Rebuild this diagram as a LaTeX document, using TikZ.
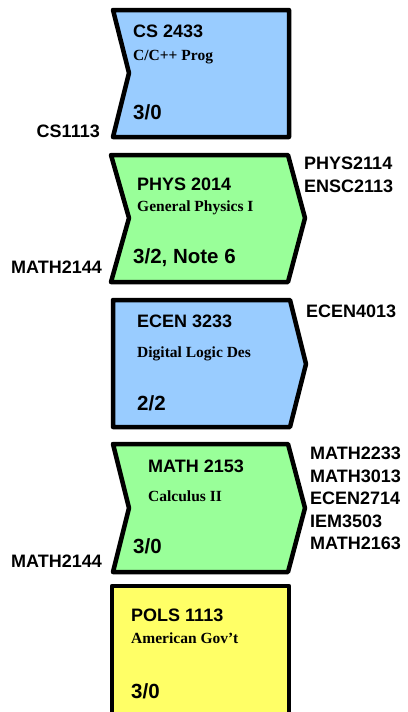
\documentclass[tikz,border=0pt]{standalone}
\usepackage{fontspec}
\setmainfont{Liberation Serif}
\newfontfamily\hv{Liberation Sans}
\definecolor{cblue}{HTML}{99CCFF}
\definecolor{cgreen}{HTML}{99FF99}
\definecolor{cyellow}{HTML}{FFFF66}
\tikzset{
  box/.style={draw=black, line width=4.5pt, line join=round},
  code/.style={anchor=base west, inner sep=0pt, font=\hv\bfseries\fontsize{18}{20}\selectfont},
  title/.style={anchor=base west, inner sep=0pt, font=\bfseries\fontsize{15.5}{17}\selectfont},
  hrs/.style={anchor=base west, inner sep=0pt, font=\hv\bfseries\fontsize{20.5}{22}\selectfont},
  pre/.style={anchor=base east, inner sep=0pt, font=\hv\bfseries\fontsize{18}{20}\selectfont},
  post/.style={anchor=base west, inner sep=0pt, font=\hv\bfseries\fontsize{18}{20}\selectfont},
}
\begin{document}
\begin{tikzpicture}[x=1pt,y=-1pt]
\useasboundingbox (0,0) rectangle (407,712);
\clip (0,0) rectangle (407,712);
\fill[white] (0,0) rectangle (407,712);
% Box 1
\draw[box, fill=cblue] (113,10) -- (289,10) -- (289,137) -- (113,137) -- (129,73) -- cycle;
\node[code] (c1) at (133,37) {CS 2433};
\node[title] (t1) at (133,60) {C/C++ Prog};
\node[hrs] (h1) at (133,119) {3/0};
\node[pre] (p1) at (100,137) {CS1113};
% Box 2
\draw[box, fill=cgreen] (111,155) -- (288,155) -- (305,218) -- (288,282) -- (111,282) -- (129,218) -- cycle;
\node[code] (c2) at (137,190) {PHYS 2014};
\node[title] (t2) at (137,211) {General Physics I};
\node[hrs] (h2) at (133,263) {3/2, Note 6};
\node[pre] (p2) at (102,273) {MATH2144};
\node[post] (q2a) at (304,169) {PHYS2114};
\node[post] (q2b) at (304,192) {ENSC2113};
% Box 3
\draw[box, fill=cblue] (113,300) -- (290,300) -- (306,364) -- (290,427) -- (113,427) -- cycle;
\node[code] (c3) at (137,327) {ECEN 3233};
\node[title] (t3) at (137,357) {Digital Logic Des};
\node[hrs] (h3) at (137,410) {2/2};
\node[post] (q3a) at (306,317) {ECEN4013};
% Box 4
\draw[box, fill=cgreen] (113,444) -- (288,444) -- (305,508) -- (288,572) -- (113,572) -- (129,508) -- cycle;
\node[code] (c4) at (148,472) {MATH 2153};
\node[title] (t4) at (148,501) {Calculus II};
\node[hrs] (h4) at (133,553) {3/0};
\node[pre] (p4) at (102,567) {MATH2144};
\node[post] (q4a) at (310,459) {MATH2233};
\node[post] (q4b) at (310,482) {MATH3013};
\node[post] (q4c) at (310,504) {ECEN2714};
\node[post] (q4d) at (310,527) {IEM3503};
\node[post] (q4e) at (310,549) {MATH2163};
% Box 5
\draw[box, fill=cyellow] (112,586) -- (289,586) -- (289,740) -- (112,740) -- cycle;
\node[code] (c5) at (131,621) {POLS 1113};
\node[title] (t5) at (131,643) {American Gov’t};
\node[hrs] (h5) at (131,698) {3/0};
\end{tikzpicture}
\end{document}
